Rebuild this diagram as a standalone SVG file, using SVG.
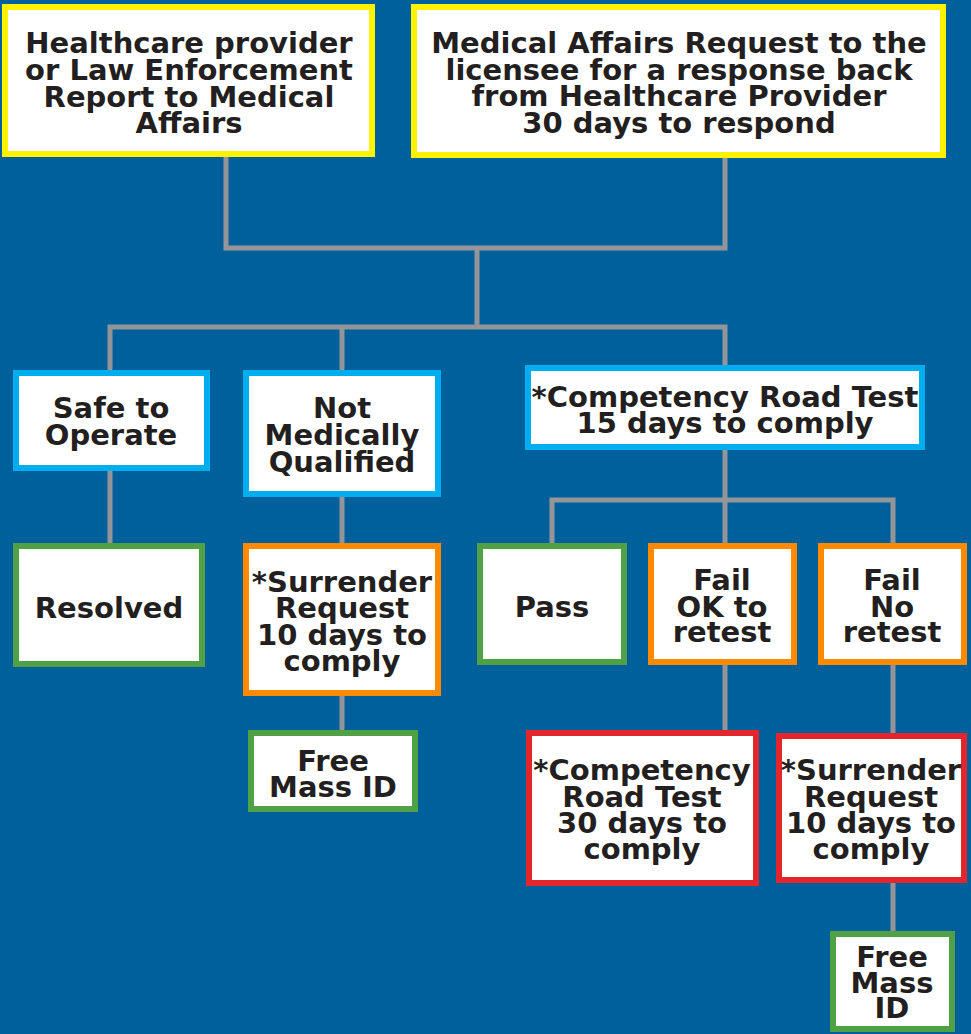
<svg xmlns="http://www.w3.org/2000/svg" width="971" height="1034" viewBox="0 0 971 1034">
<style>
.bg{fill:#00609b}
.box{fill:#ffffff;stroke-width:6}
.y{stroke:#fff200}
.b{stroke:#00aeef}
.g{stroke:#50a045}
.o{stroke:#ff8a00}
.r{stroke:#e3262b}
.t{font-family:"DejaVu Sans","Liberation Sans",sans-serif;font-weight:bold;font-size:29px;fill:#231f20;text-anchor:middle}
.c{fill:none;stroke:#939598;stroke-width:5}
</style>
<rect class="bg" x="0" y="0" width="971" height="1034"/>
<g id="connectors">
<path class="c" d="M226,157 V248 H725 V158"/>
<path class="c" d="M477,248 V327"/>
<path class="c" d="M110,371 V327 H725 V366"/>
<path class="c" d="M342,327 V371"/>
<path class="c" d="M110,470 V543"/>
<path class="c" d="M342,497 V543"/>
<path class="c" d="M342,695 V731"/>
<path class="c" d="M725,449 V543"/>
<path class="c" d="M552,543 V500 H893 V543"/>
<path class="c" d="M725,664 V731"/>
<path class="c" d="M893,664 V734"/>
<path class="c" d="M893,883 V931"/>
</g>
<g id="n1">
<rect class="box y" x="5" y="7" width="367" height="147"/>
<text class="t" x="189" y="53">Healthcare provider</text>
<text class="t" x="189" y="80">or Law Enforcement</text>
<text class="t" x="189" y="107">Report to Medical</text>
<text class="t" x="189" y="133">Affairs</text>
</g>
<g id="n2">
<rect class="box y" x="414" y="7" width="529" height="148"/>
<text class="t" x="679" y="53">Medical Affairs Request to the</text>
<text class="t" x="679" y="80">licensee for a response back</text>
<text class="t" x="679" y="106">from Healthcare Provider</text>
<text class="t" x="679" y="133">30 days to respond</text>
</g>
<g id="n3">
<rect class="box b" x="16" y="373" width="191" height="95"/>
<text class="t" x="111" y="418">Safe to</text>
<text class="t" x="111" y="445">Operate</text>
</g>
<g id="n4">
<rect class="box b" x="246" y="373" width="192" height="121"/>
<text class="t" x="342" y="418">Not</text>
<text class="t" x="342" y="445">Medically</text>
<text class="t" x="342" y="472">Qualified</text>
</g>
<g id="n5">
<rect class="box b" x="528" y="368" width="394" height="79"/>
<text class="t" x="725" y="407">*Competency Road Test</text>
<text class="t" x="725" y="433">15 days to comply</text>
</g>
<g id="n6">
<rect class="box g" x="16" y="546" width="186" height="118"/>
<text class="t" x="109" y="618">Resolved</text>
</g>
<g id="n7">
<rect class="box o" x="246" y="546" width="192" height="147"/>
<text class="t" x="342" y="592">*Surrender</text>
<text class="t" x="342" y="618">Request</text>
<text class="t" x="342" y="645">10 days to</text>
<text class="t" x="342" y="671">comply</text>
</g>
<g id="n8">
<rect class="box g" x="251" y="733" width="164" height="76"/>
<text class="t" x="333" y="771">Free</text>
<text class="t" x="333" y="797">Mass ID</text>
</g>
<g id="n9">
<rect class="box g" x="480" y="546" width="144" height="116"/>
<text class="t" x="552" y="617">Pass</text>
</g>
<g id="n10">
<rect class="box o" x="651" y="546" width="143" height="116"/>
<text class="t" x="722" y="590">Fail</text>
<text class="t" x="722" y="617">OK to</text>
<text class="t" x="722" y="642">retest</text>
</g>
<g id="n11">
<rect class="box o" x="821" y="546" width="143" height="116"/>
<text class="t" x="892" y="590">Fail</text>
<text class="t" x="892" y="617">No</text>
<text class="t" x="892" y="642">retest</text>
</g>
<g id="n12">
<rect class="box r" x="529" y="733" width="227" height="150"/>
<text class="t" x="642" y="780">*Competency</text>
<text class="t" x="642" y="807">Road Test</text>
<text class="t" x="642" y="833">30 days to</text>
<text class="t" x="642" y="859">comply</text>
</g>
<g id="n13">
<rect class="box r" x="779" y="736" width="185" height="144"/>
<text class="t" x="871" y="780">*Surrender</text>
<text class="t" x="871" y="807">Request</text>
<text class="t" x="871" y="833">10 days to</text>
<text class="t" x="871" y="859">comply</text>
</g>
<g id="n14">
<rect class="box g" x="833" y="934" width="119" height="95"/>
<text class="t" x="892" y="967">Free</text>
<text class="t" x="892" y="993">Mass</text>
<text class="t" x="892" y="1018">ID</text>
</g>
</svg>
